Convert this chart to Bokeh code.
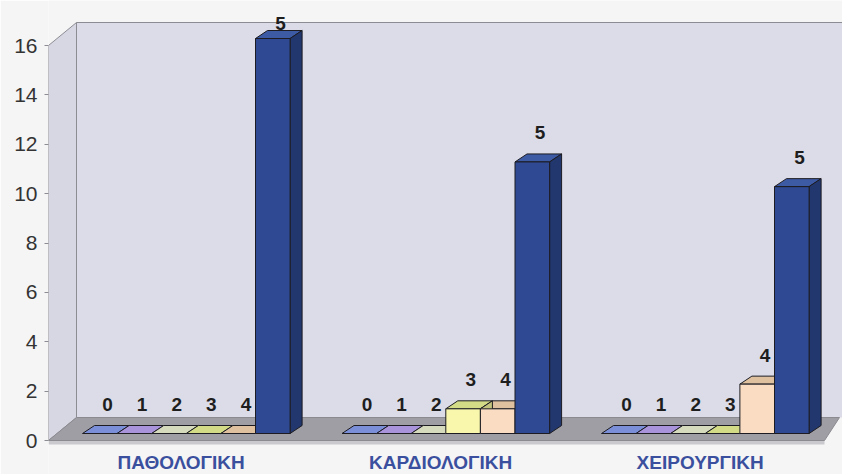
from bokeh.plotting import figure
from bokeh.models import Range1d, FixedTicker, ColumnDataSource
from bokeh.core.properties import value
from bokeh.embed import file_html
from bokeh.resources import INLINE

# ---- data -------------------------------------------------------------
departments = ["ΠΑΘΟΛΟΓΙΚΗ", "ΚΑΡΔΙΟΛΟΓΙΚΗ", "ΧΕΙΡΟΥΡΓΙΚΗ"]
grades = ["0", "1", "2", "3", "4", "5"]
counts_pathologiki = [0, 0, 0, 0, 0, 16]
counts_kardiologiki = [0, 0, 0, 1, 1, 11]
counts_cheirourgiki = [0, 0, 0, 0, 2, 10]
y_ticks = [0, 2, 4, 6, 8, 10, 12, 14, 16]

series = [counts_pathologiki, counts_kardiologiki, counts_cheirourgiki]

# ---- colours per grade --------------------------------------------------
front_colors = ["#6f86d2", "#9f8bd6", "#d9ddc2", "#f8f7ac", "#fadcc3", "#2f4a92"]
top_colors = ["#7a8fd8", "#a994dc", "#d6dbbd", "#d4db86", "#dfc09f", "#3d5aa5"]
side_colors = ["#5266a8", "#7a6aa8", "#aeb29a", "#c4c47e", "#cfae90", "#22376e"]

# ---- geometry -----------------------------------------------------------
W, H = 842, 474
FRAME_LEFT = 48
PX_Y = 24.6875          # pixels per count
PX_X = 34.6             # pixels per bar slot
ZERO_PX = 440           # pixel row of count 0 on the front plane
GROUP_STRIDE = 7.5      # slots from one department to the next

y_start = (ZERO_PX - H) / PX_Y
y_end = ZERO_PX / PX_Y
x_start = -(82 - FRAME_LEFT) / PX_X
x_end = x_start + (W - FRAME_LEFT) / PX_X

WALL_DX, WALL_DY = 28 / PX_X, 23 / PX_Y     # depth of the chart box
BAR_DX, BAR_DY = 12 / PX_X, 8 / PX_Y        # depth of each bar
BAR_BASE = 7 / PX_Y                          # bars stand slightly inside the floor
Y_TOP = y_ticks[-1]

p = figure(width=W, height=H, output_backend="svg", toolbar_location=None,
           x_range=Range1d(x_start, x_end), y_range=Range1d(y_start, y_end),
           min_border_left=FRAME_LEFT, min_border_right=0,
           min_border_top=0, min_border_bottom=0)
p.background_fill_color = "#f5f5f5"
p.border_fill_color = "#f5f5f5"
p.outline_line_color = None
p.grid.visible = False
p.xaxis.visible = False

# ---- chart box: back wall, side wall, floor ---------------------------------
floor_right_front = x_start + (824 - FRAME_LEFT) / PX_X
floor_right_back = x_start + (839 - FRAME_LEFT) / PX_X
wall_color = "#dbdce7"
edge_color = "#8c8c94"

p.patch([x_start + WALL_DX, x_end + 1, x_end + 1, x_start + WALL_DX],
        [WALL_DY, WALL_DY, Y_TOP + WALL_DY, Y_TOP + WALL_DY],
        fill_color=wall_color, line_color=None)
p.line([x_start + WALL_DX, x_end + 1], [Y_TOP + WALL_DY] * 2,
       line_color=edge_color, line_width=1.2)
p.patch([x_start, x_start, x_start + WALL_DX, x_start + WALL_DX],
        [0, Y_TOP, Y_TOP + WALL_DY, WALL_DY],
        fill_color="#d6d7e2", line_color=edge_color, line_width=1)
# floor front lip and top surface
p.patch([x_start, floor_right_front, floor_right_front, x_start],
        [0, 0, -4 / PX_Y, -4 / PX_Y],
        fill_color="#cacace", line_color=None)
p.patch([x_start, x_start + WALL_DX, floor_right_back, floor_right_front],
        [0, WALL_DY, WALL_DY, 0],
        fill_color="#9e9ea4", line_color="#8a8a90", line_width=1)

# ---- 3D bars -----------------------------------------------------------------
tops_x, tops_y, tops_c = [], [], []
sides_x, sides_y, sides_c = [], [], []
fr_l, fr_r, fr_b, fr_t, fr_c = [], [], [], [], []
lab_x, lab_y, lab_t = [], [], []

for g, counts in enumerate(series):
    for i, v in enumerate(counts):
        xl = g * GROUP_STRIDE + i
        xr = xl + 1
        y0 = BAR_BASE
        y1 = BAR_BASE + v
        tops_x.append([xl, xr, xr + BAR_DX, xl + BAR_DX])
        tops_y.append([y1, y1, y1 + BAR_DY, y1 + BAR_DY])
        tops_c.append(top_colors[i])
        if v > 0:
            sides_x.append([xr, xr + BAR_DX, xr + BAR_DX, xr])
            sides_y.append([y0, y0 + BAR_DY, y1 + BAR_DY, y1])
            sides_c.append(side_colors[i])
            fr_l.append(xl)
            fr_r.append(xr)
            fr_b.append(y0)
            fr_t.append(y1)
            fr_c.append(front_colors[i])
        lab_x.append(xl + 0.5 + BAR_DX / 2 + 0.05)
        lab_y.append(min(y1 + BAR_DY + 0.85, Y_TOP + WALL_DY - 0.03))
        lab_t.append(grades[i])

bar_line = "#1c1c22"
p.patches(tops_x, tops_y, fill_color=tops_c, line_color=bar_line, line_width=1)
p.patches(sides_x, sides_y, fill_color=sides_c, line_color=bar_line, line_width=1)
p.quad(left=fr_l, right=fr_r, bottom=fr_b, top=fr_t,
       fill_color=fr_c, line_color=bar_line, line_width=1)

labels = ColumnDataSource(dict(x=lab_x, y=lab_y, text=lab_t))
p.text(x="x", y="y", text="text", source=labels,
       text_font=value("Liberation Sans"), text_font_style="bold",
       text_font_size="19px", text_color="#1e1e1e",
       text_align="center", text_baseline="middle")

# ---- department names under each group -------------------------------------
dept_src = ColumnDataSource(dict(
    x=[g * GROUP_STRIDE + len(grades) / 2 - 0.15 for g in range(len(departments))],
    y=[-22 / PX_Y] * len(departments),
    text=departments))
p.text(x="x", y="y", text="text", source=dept_src,
       text_font=value("Liberation Sans"), text_font_style="bold",
       text_font_size="19px",
       text_color="#3a4f9e", text_align="center", text_baseline="middle")

# ---- value axis ---------------------------------------------------------------
yax = p.yaxis[0]
yax.ticker = FixedTicker(ticks=y_ticks)
yax.axis_line_color = None
yax.major_tick_out = 4
yax.major_tick_in = 0
yax.major_tick_line_color = "#8c8c94"
yax.minor_tick_line_color = None
yax.major_label_standoff = 7
yax.major_label_text_font = "Liberation Sans"
yax.major_label_text_font_size = "21px"
yax.major_label_text_color = "#333333"

open("out.html", "w").write(file_html(p, INLINE))
